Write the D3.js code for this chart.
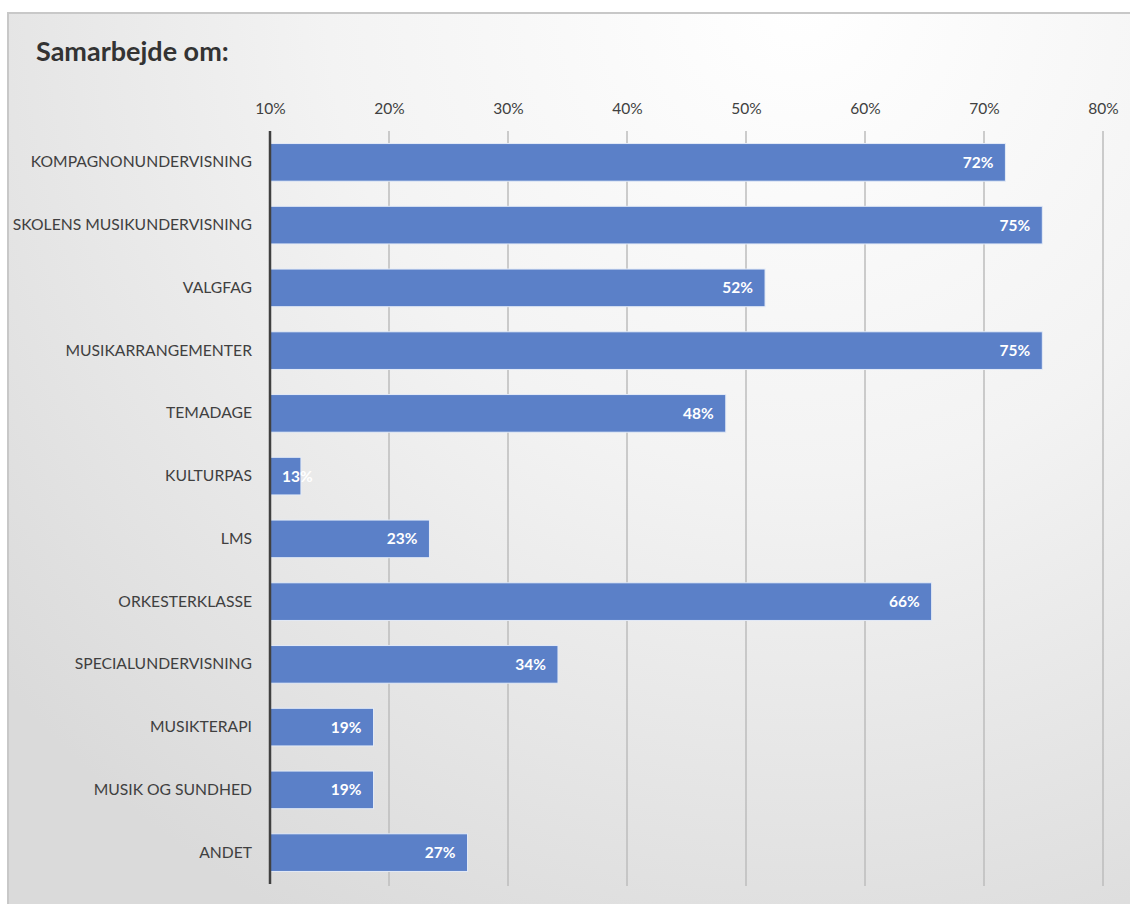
<!DOCTYPE html>
<html>
<head>
<meta charset="utf-8">
<script src="https://cdn.jsdelivr.net/npm/d3@7"></script>
<style>
  body { margin: 0; background: #fff; }
  svg { display: block; }
</style>
</head>
<body>
<div id="chart"></div>
<script>
// Categories and values (share of respondents)
const categories = [
    "KOMPAGNONUNDERVISNING",
    "SKOLENS MUSIKUNDERVISNING",
    "VALGFAG",
    "MUSIKARRANGEMENTER",
    "TEMADAGE",
    "KULTURPAS",
    "LMS",
    "ORKESTERKLASSE",
    "SPECIALUNDERVISNING",
    "MUSIKTERAPI",
    "MUSIK OG SUNDHED",
    "ANDET"
];
const values = [0.718, 0.749, 0.516, 0.749, 0.483, 0.126, 0.234, 0.656, 0.342, 0.187, 0.187, 0.266];
const tickValues = [0.1, 0.2, 0.3, 0.4, 0.5, 0.6, 0.7, 0.8];
const title = "Samarbejde om:";

const width = 1130;
const height = 904;
const font = "Lato, 'Open Sans', sans-serif";

const svg = d3.select("#chart")
    .append("svg")
    .attr("width", width)
    .attr("height", height);

// Background gradient of the chart area
const defs = svg.append("defs");
const grad = defs.append("radialGradient")
    .attr("id", "bg")
    .attr("gradientUnits", "userSpaceOnUse")
    .attr("cx", 800).attr("cy", 0).attr("r", 1050);
grad.append("stop").attr("offset", "0%").attr("stop-color", "#ffffff");
grad.append("stop").attr("offset", "45%").attr("stop-color", "#f3f3f3");
grad.append("stop").attr("offset", "100%").attr("stop-color", "#dadada");

svg.append("rect")
    .attr("x", 8).attr("y", 13)
    .attr("width", width + 10).attr("height", height + 10)
    .attr("fill", "url(#bg)")
    .attr("stroke", "#c8c8c8")
    .attr("stroke-width", 2);

svg.append("text")
    .attr("x", 36).attr("y", 61)
    .attr("font-family", font)
    .attr("font-size", 27)
    .attr("font-weight", "bold")
    .attr("fill", "#333")
    .text(title);

const margin = { left: 270, right: 1103, top: 131, bottom: 884 };

const x = d3.scaleLinear()
    .domain([0.1, 0.8])
    .range([margin.left, margin.right]);

const y = d3.scaleBand()
    .domain(categories)
    .range([margin.top, margin.bottom])
    .paddingInner(0.4)
    .paddingOuter(0.2);

// Gridlines
svg.append("g")
    .selectAll("line")
    .data(tickValues.slice(1))
    .enter()
    .append("line")
    .attr("x1", d => x(d)).attr("x2", d => x(d))
    .attr("y1", margin.top).attr("y2", margin.bottom + 2)
    .attr("stroke", "#bdbdbd")
    .attr("stroke-width", 1.5);

// Top axis
const xAxis = svg.append("g")
    .attr("transform", `translate(0,${margin.top})`)
    .call(d3.axisTop(x).tickValues(tickValues).tickFormat(d3.format(".0%")).tickSize(0).tickPadding(17));
xAxis.select(".domain").remove();
xAxis.selectAll("text")
    .attr("font-family", font)
    .attr("font-size", 15.5)
    .attr("fill", "#404040");

// Bars
svg.append("g")
    .selectAll("rect")
    .data(values)
    .enter()
    .append("rect")
    .attr("x", x(0.1))
    .attr("y", (d, i) => y(categories[i]))
    .attr("width", d => x(d) - x(0.1))
    .attr("height", y.bandwidth())
    .attr("fill", "#5b80c8")
    .attr("stroke", "#e4ebf7")
    .attr("stroke-width", 1);

// Value labels, inside the bar end; start-aligned when the bar is too short
svg.append("g")
    .selectAll("text")
    .data(values)
    .enter()
    .append("text")
    .attr("y", (d, i) => y(categories[i]) + y.bandwidth() / 2)
    .attr("dy", "0.35em")
    .attr("text-anchor", "end")
    .attr("font-family", font)
    .attr("font-size", 15.5)
    .attr("font-weight", "bold")
    .attr("fill", "#fff")
    .text(d => d3.format(".0%")(d))
    .attr("x", function(d) {
        const w = this.getComputedTextLength();
        return Math.max(x(d) - 12, x(0.1) + 12 + w);
    });

// Category axis
const yAxis = svg.append("g")
    .attr("transform", `translate(${margin.left},0)`)
    .call(d3.axisLeft(y).tickSize(0).tickPadding(18));
yAxis.select(".domain")
    .attr("stroke", "#404040")
    .attr("stroke-width", 2.5)
    .attr("d", `M0,${margin.top}V${margin.bottom}`);
yAxis.selectAll("text")
    .attr("font-family", font)
    .attr("font-size", 15.7)
    .attr("fill", "#404040");
</script>
</body>
</html>
